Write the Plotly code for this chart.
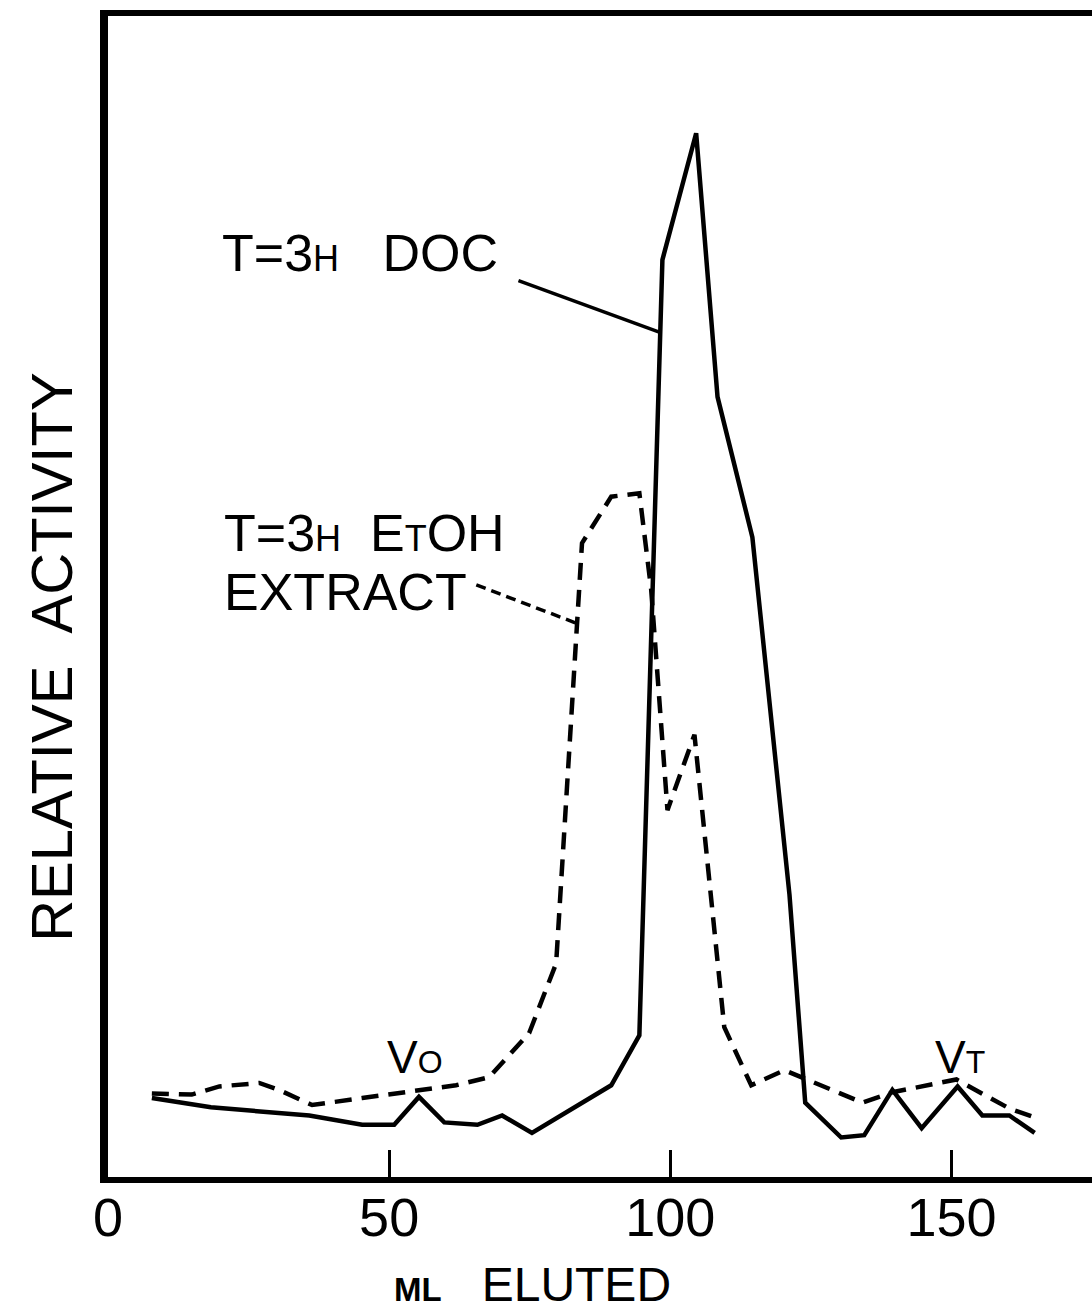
import plotly.graph_objects as go

# ---- data ----
doc_ml = [7.8, 18.3, 35.8, 45.2, 50.9, 55.3, 59.8, 65.7, 70.1, 75.4, 89.5, 94.5,
          98.6, 104.6, 108.4, 114.6, 121.2, 124.0, 130.4, 134.5, 139.5, 144.7,
          151.1, 155.5, 160.3, 164.8]
doc_act = [6.8, 6.0, 5.3, 4.5, 4.5, 6.9, 4.7, 4.5, 5.3, 3.8, 7.9, 12.2,
           79.0, 89.9, 67.2, 55.1, 24.3, 6.4, 3.4, 3.6, 7.5, 4.2,
           7.8, 5.3, 5.3, 3.8]

etoh_ml = [7.8, 14.9, 19.8, 26.9, 30.4, 36.3, 45.2, 55.3, 61.9, 67.8, 74.9, 79.7,
           84.3, 89.5, 94.5, 96.6, 99.5, 104.3, 109.6, 114.4, 120.3, 134.2,
           139.5, 150.9, 155.5, 160.3, 164.4]
etoh_act = [7.2, 7.1, 7.8, 8.1, 7.5, 6.2, 6.8, 7.5, 7.9, 8.6, 12.4, 18.4,
            54.6, 58.6, 58.9, 50.6, 31.6, 38.1, 12.9, 7.9, 9.2, 6.4,
            7.3, 8.4, 7.2, 5.9, 5.2]

x_ticks = [0, 50, 100, 150]
x_tick_labels = ["0", "50", "100", "150"]

FONT = "Liberation Sans, Arial, sans-serif"
NB = "\u00a0"

fig = go.Figure()
fig.add_trace(go.Scatter(x=doc_ml, y=doc_act, mode="lines",
                         line=dict(color="black", width=4.5),
                         showlegend=False, hoverinfo="skip"))
fig.add_trace(go.Scatter(x=etoh_ml, y=etoh_act, mode="lines",
                         line=dict(color="black", width=4.5, dash="17px,10px"),
                         showlegend=False, hoverinfo="skip"))

# leader lines
fig.add_shape(type="line", x0=73.0, y0=77.2, x1=98.4, y1=72.7,
              line=dict(color="black", width=3.5))
fig.add_shape(type="line", x0=65.5, y0=51.0, x1=83.3, y1=47.7,
              line=dict(color="black", width=3.5, dash="10px,6px"))

def small(t, size):
    return f"<span style='font-size:{size}px'>{t}</span>"

annos = [
    dict(x=19.9, y=79.6, text="T=3" + small("H", 36) + NB * 3 + "DOC",
         xanchor="left", yanchor="middle", font=dict(size=52)),
    dict(x=20.3, y=55.5, text="T=3" + small("H", 36) + NB * 2 + "E" + small("T", 36) + "OH",
         xanchor="left", yanchor="middle", font=dict(size=52)),
    dict(x=20.3, y=50.4, text="EXTRACT",
         xanchor="left", yanchor="middle", font=dict(size=52)),
    dict(x=54.6, y=10.3, text="V" + small("O", 32),
         xanchor="center", yanchor="middle", font=dict(size=46)),
    dict(x=151.5, y=10.3, text="V" + small("T", 32),
         xanchor="center", yanchor="middle", font=dict(size=46)),
]
for a in annos:
    a.update(xref="x", yref="y", showarrow=False)
    a["font"].update(family=FONT, color="black")
    fig.add_annotation(**a)

# axis titles
fig.add_annotation(xref="paper", yref="paper", x=-0.057, y=0.448,
                   text="RELATIVE" + NB * 2 + "ACTIVITY", textangle=-90,
                   showarrow=False, xanchor="center", yanchor="middle",
                   font=dict(family=FONT, size=58, color="black"))
fig.add_annotation(xref="paper", yref="paper", x=0.431, y=-0.093,
                   text="<b>" + small("ML", 33) + "</b>" + NB * 3 + "ELUTED",
                   showarrow=False, xanchor="center", yanchor="middle",
                   font=dict(family=FONT, size=48, color="black"))

fig.update_layout(
    width=1092, height=1316,
    margin=dict(l=108, r=0, t=16, b=139),
    paper_bgcolor="white", plot_bgcolor="white",
    showlegend=False,
    xaxis=dict(range=[0, 175], tickvals=x_ticks, ticktext=x_tick_labels,
               ticks="inside", ticklen=27, tickwidth=3, tickcolor="black",
               ticklabelstandoff=-12,
               showline=True, linewidth=6, linecolor="black", mirror=True,
               showgrid=False, zeroline=False,
               tickfont=dict(family=FONT, size=54, color="black")),
    yaxis=dict(range=[0, 100], showticklabels=False, ticks="",
               showline=True, linewidth=8, linecolor="black", mirror=False,
               showgrid=False, zeroline=False),
)

fig.write_html("out.html")
